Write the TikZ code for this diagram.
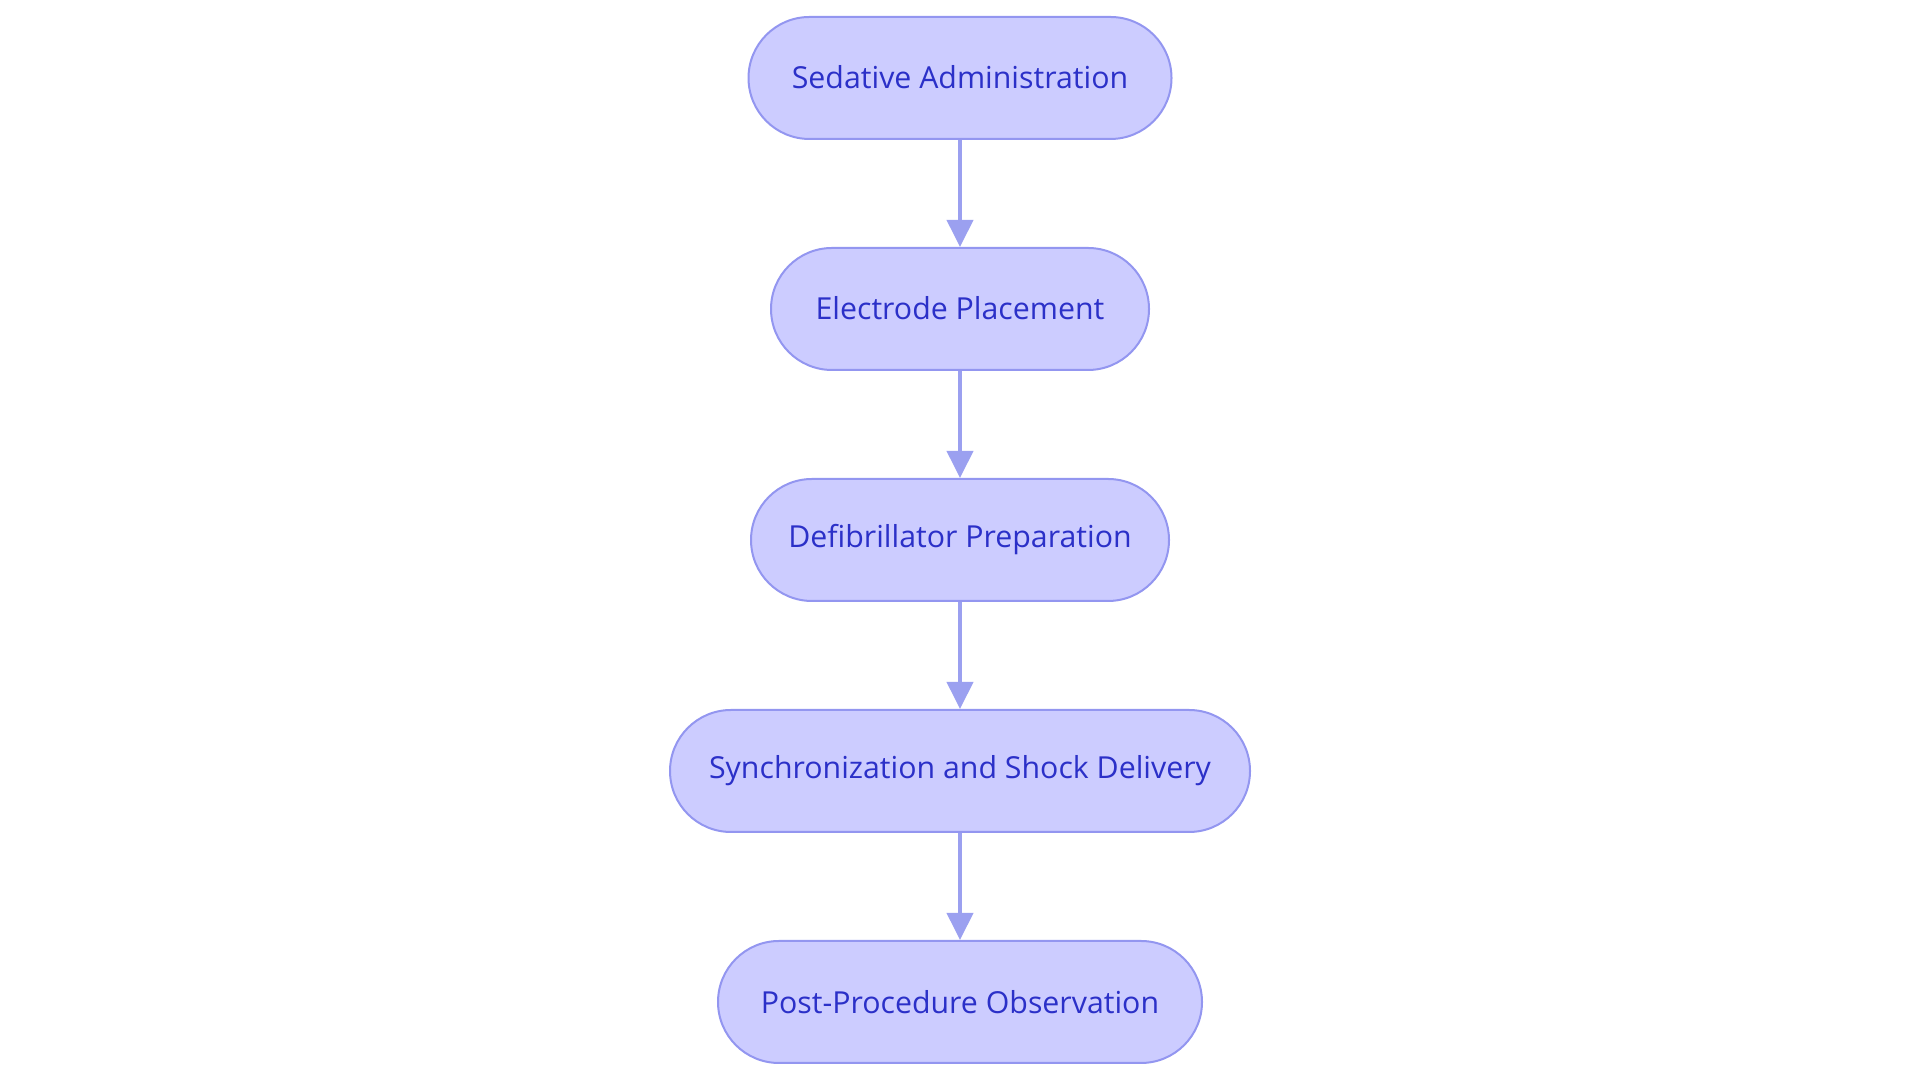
\documentclass[tikz,border=0pt]{standalone}
\usepackage{fontspec}
\setmainfont{Open Sans}
\usetikzlibrary{arrows.meta}
\definecolor{nodefill}{RGB}{204,204,255}
\definecolor{nodeline}{RGB}{147,150,240}
\definecolor{nodetext}{RGB}{43,48,200}
\definecolor{arrowcol}{RGB}{155,160,240}
\tikzset{
  stepbox/.style={draw=nodeline, line width=2pt, fill=nodefill, text=nodetext,
    rounded corners=61pt, minimum height=122pt, inner sep=0pt,
    font=\fontsize{30.3}{36}\selectfont},
  flow/.style={draw=arrowcol, line width=4pt, -{Triangle[width=26pt,length=27pt]}}
}
\begin{document}
\begin{tikzpicture}[x=1pt,y=1pt]
\useasboundingbox (0,0) rectangle (1920,1083);
\node[stepbox, minimum width=423pt] (n1) at (960,1005) {\raisebox{1pt}{Sedative Administration}};
\node[stepbox, minimum width=378pt] (n2) at (960,774) {\raisebox{1pt}{Electrode Placement}};
\node[stepbox, minimum width=418pt] (n3) at (960,543) {\raisebox{1pt}{Defibrillator Preparation}};
\node[stepbox, minimum width=580pt] (n4) at (960,312) {\raisebox{1pt}{Synchronization and Shock Delivery}};
\node[stepbox, minimum width=484pt] (n5) at (960,81) {\raisebox{1pt}{Post-Procedure Observation}};
\draw[flow] (n1) -- (n2);
\draw[flow] (n2) -- (n3);
\draw[flow] (n3) -- (n4);
\draw[flow] (n4) -- (n5);
\end{tikzpicture}
\end{document}
